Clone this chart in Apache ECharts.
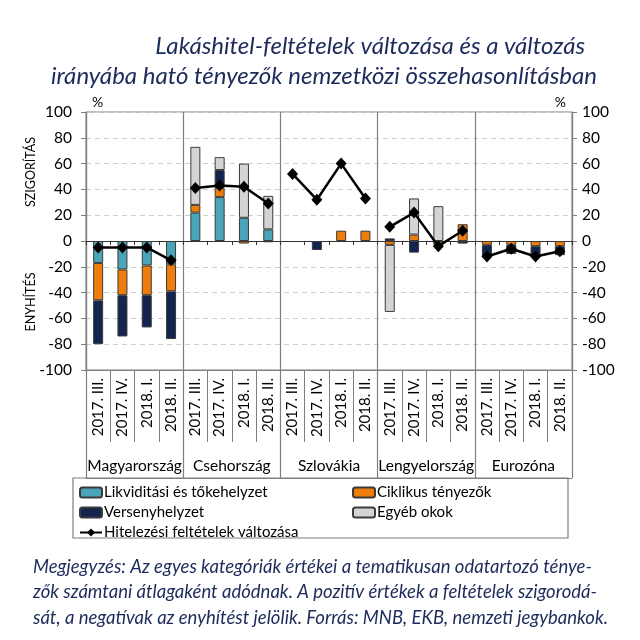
<!DOCTYPE html>
<html><head><meta charset="utf-8">
<script src="https://cdn.jsdelivr.net/npm/echarts@6/dist/echarts.min.js"></script>
<style>html,body{margin:0;padding:0;background:#fff}#c{width:640px;height:640px}</style>
</head><body><div id="c"></div>
<script>
const groups = ['Magyarország','Csehország','Szlovákia','Lengyelország','Eurozóna'];
const quarters = ['2017. III.','2017. IV.','2018. I.','2018. II.'];
const yTicks = {min:-100, max:100, interval:20};
// values per category (groups x quarters), null = no bar
const likviditas = [-17,-22,-19,-18, 22,34,18,9, null,null,null,null, null,null,null,null, null,null,null,null];
const ciklikus   = [-29,-20,-23,-21, 6,7,-2,null, null,null,8,8, -3,5,-3,13, -3,-3,-4,-4];
const verseny    = [-34,-32,-25,-37, null,14,null,-1, null,-7,null,null, 2,-9,-1,-2, -9,-7,-7,-7];
const egyeb      = [null,null,null,null, 45,10,42,26, null,null,null,null, -52,28,27,null, null,null,null,null];
const hitelezes  = [-5,-5,-5,-15, 41,43,42,29, 52,32,60,33, 11,22,-4,8, -12,-6,-12,-8];

const names = {
  lik:'Likviditási és tőkehelyzet', cik:'Ciklikus tényezők', ver:'Versenyhelyzet',
  egy:'Egyéb okok', hit:'Hitelezési feltételek változása'
};
const colors = {lik:'#4aa5b8', cik:'#ee7d0b', ver:'#13244f', egy:'#d4d4d4', hit:'#000000'};
const FONT = 'Lato';
const categories = [];
groups.forEach(g => quarters.forEach(q => categories.push(g + '|' + q)));

const chart = echarts.init(document.getElementById('c'));
function bar(key, data){
  return {name:names[key], type:'bar', stack:'s', barWidth:10, data:data,
    xAxisIndex:0, yAxisIndex:0,
    itemStyle:{color:colors[key], borderColor:'#3a3a3a', borderWidth:1}};
}
const lineSeries = groups.map((g,gi)=>({
  name:names.hit, type:'line', xAxisIndex:0, yAxisIndex:0, z:10,
  data: hitelezes.map((v,i)=> Math.floor(i/quarters.length)===gi ? v : null),
  symbol:'diamond', symbolSize:[11,12], connectNulls:false,
  lineStyle:{color:'#000', width:2.5}, itemStyle:{color:'#000'}
}));

const axisGray = '#7f7f7f';
const titleStyle = {fontFamily:FONT, fontStyle:'italic', fontWeight:'normal', fontSize:24, color:'#1d2b5a'};
chart.setOption({
  animation:false,
  textStyle:{fontFamily:FONT},
  title:[
    {text:'Lakáshitel-feltételek változása és a változás', right:50, top:29, textStyle:titleStyle},
    {text:'irányába ható tényezők nemzetközi összehasonlításban', right:38, top:59, textStyle:titleStyle},
    {text:'Megjegyzés: Az egyes kategóriák értékei a tematikusan odatartozó ténye-\nzők számtani átlagaként adódnak. A pozitív értékek a feltételek szigorodá-\nsát, a negatívak az enyhítést jelölik. Forrás: MNB, EKB, nemzeti jegybankok.',
     left:28, top:549,
     textStyle:{fontFamily:FONT, fontStyle:'italic', fontWeight:'normal', fontSize:18.5, lineHeight:25.5, color:'#1d2b5a'}}
  ],
  grid:{left:86, right:68, top:112, bottom:270, show:true, borderColor:axisGray, borderWidth:1},
  legend:[
    {left:74, top:480, orient:'vertical', itemWidth:22, itemHeight:10, itemGap:5,
     data:[names.lik, names.ver, names.hit],
     textStyle:{fontFamily:FONT, fontSize:15, color:'#000', padding:[0,0,0,-3]}},
    {left:347, top:480, orient:'vertical', itemWidth:22, itemHeight:10, itemGap:5,
     data:[names.cik, names.egy],
     textStyle:{fontFamily:FONT, fontSize:15, color:'#000', padding:[0,0,0,-3]}}
  ],
  graphic:[
    {type:'rect', shape:{x:73, y:478, width:495, height:60}, style:{fill:'none', stroke:axisGray, lineWidth:1.2}},
    {type:'text', x:31, y:172, rotation:Math.PI/2,
     style:{text:'SZIGORÍTÁS', fontFamily:FONT, fontSize:12.5, fill:'#000', textAlign:'center', textVerticalAlign:'middle'}},
    {type:'text', x:31, y:302, rotation:Math.PI/2,
     style:{text:'ENYHÍTÉS', fontFamily:FONT, fontSize:12.5, fill:'#000', textAlign:'center', textVerticalAlign:'middle'}}
  ],
  xAxis:[
    {type:'category', data:categories, position:'bottom',
     axisLine:{show:true, onZero:true, lineStyle:{color:'#333', width:1.2}},
     axisTick:{show:true, interval:0, length:4, lineStyle:{color:'#333'}},
     axisLabel:{show:false}, splitLine:{show:false}},
    {type:'category', data:categories, position:'bottom',
     axisLine:{show:true, onZero:false, lineStyle:{color:axisGray, width:1.2}},
     axisTick:{show:true, interval:0, length:72, lineStyle:{color:axisGray}},
     axisLabel:{show:true, interval:0, rotate:90, margin:8, fontFamily:FONT, fontSize:15, color:'#000',
       formatter:v=>v.split('|')[1]},
     splitLine:{show:false}},
    {type:'category', data:groups, position:'bottom', offset:108,
     axisLine:{show:true, onZero:false, lineStyle:{color:axisGray, width:1.2}},
     axisTick:{show:true, inside:true, interval:0, length:108, lineStyle:{color:axisGray, width:1.2}},
     axisLabel:{show:true, inside:true, interval:0, margin:4, fontFamily:FONT, fontSize:15.5, color:'#000'},
     splitLine:{show:true, interval:0, lineStyle:{color:axisGray, width:1.2}}}
  ],
  yAxis:[
    {type:'value', position:'left', min:yTicks.min, max:yTicks.max, interval:yTicks.interval,
     name:'%', nameLocation:'end', nameGap:3,
     nameTextStyle:{fontFamily:FONT, fontSize:14, color:'#000', align:'left', padding:[0,0,0,6]},
     axisLine:{show:true, lineStyle:{color:axisGray, width:1.2}},
     axisTick:{show:true, length:5, lineStyle:{color:axisGray}},
     axisLabel:{fontFamily:FONT, fontSize:15.5, color:'#000', margin:14},
     splitLine:{show:true, lineStyle:{color:'#cfcfcf', type:[5,4], width:1}}},
    {type:'value', position:'right', min:yTicks.min, max:yTicks.max, interval:yTicks.interval,
     name:'%', nameLocation:'end', nameGap:3,
     nameTextStyle:{fontFamily:FONT, fontSize:14, color:'#000', align:'right', padding:[0,6,0,0]},
     axisLine:{show:true, lineStyle:{color:axisGray, width:1.2}},
     axisTick:{show:true, length:5, lineStyle:{color:axisGray}},
     axisLabel:{fontFamily:FONT, fontSize:15.5, color:'#000', margin:10},
     splitLine:{show:false}}
  ],
  series:[
    bar('lik', likviditas), bar('cik', ciklikus), bar('ver', verseny), bar('egy', egyeb),
    ...lineSeries
  ]
});
</script></body></html>
